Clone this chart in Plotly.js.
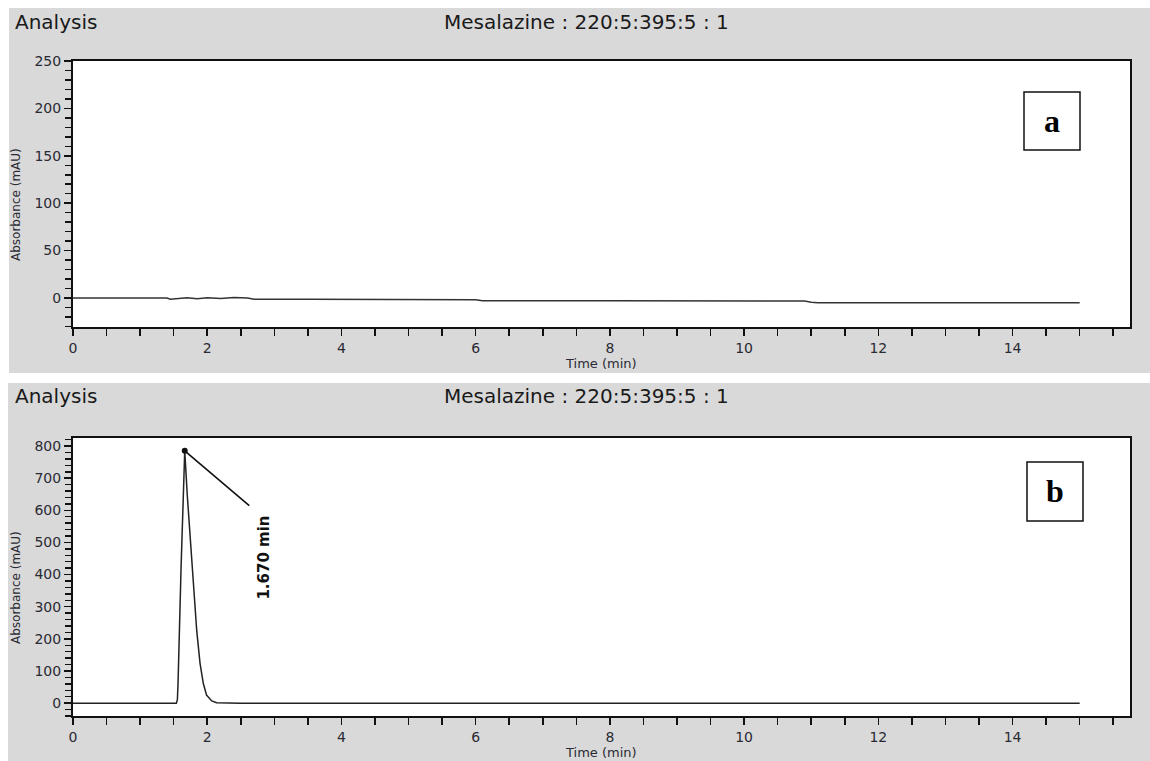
<!DOCTYPE html>
<html>
<head>
<meta charset="utf-8">
<script src="https://cdn.plot.ly/plotly-3.0.1.min.js"></script>
<style>html,body{margin:0;padding:0;background:#fff;}#chart{width:1150px;height:761px;}</style>
</head>
<body>
<div id="chart"></div>
<script>
// ---- Data ----
const panelTitleLeft = "Analysis";
const panelTitleCenter = "Mesalazine : 220:5:395:5 : 1";
const xTitle = "Time (min)";
const yTitle = "Absorbance (mAU)";
const panelLabels = ["a", "b"];

// Panel a: blank run, flat baseline
const timeA = [0, 1.0, 1.4, 1.45, 1.55, 1.7, 1.85, 2.0, 2.2, 2.4, 2.6, 2.7, 3.5, 5.0, 6.0, 6.1, 6.2, 8.0, 10.0, 10.9, 11.0, 11.1, 13.0, 15.0];
const absA  = [0, 0, 0, -1.2, -0.5, 0.3, -0.8, 0.2, -0.6, 0.4, 0, -1.2, -1.2, -1.5, -1.8, -2.8, -3, -3, -3.2, -3.3, -4.5, -5, -5, -5];

// Panel b: Mesalazine peak
const timeB = [0, 1.0, 1.5, 1.54, 1.555, 1.565, 1.61, 1.665, 1.704, 1.769, 1.843, 1.893, 1.942, 1.99, 2.067, 2.14, 2.5, 5.0, 10.0, 15.0];
const absB  = [0, 0, 0, 0, 10, 60, 420, 785, 643, 435, 227, 124, 61, 25, 7, 1, 0, 0, 0, 0];

const peakTime = [1.665];
const peakAbs = [785];
const peakLabel = "1.670 min";

// ---- Layout helpers ----
const W = 1150, H = 761;
const PX = x => x / W;
const PY = y => 1 - y / H;

const tickFont = {family: "DejaVu Sans, Arial, sans-serif", size: 14, color: "#2a2a33"};

function xAxis(anchor) {
  return {
    domain: [PX(73), PX(1130)], anchor: anchor, range: [0, 15.75],
    tick0: 0, dtick: 2, ticks: "outside", ticklen: 7, tickwidth: 1.5, tickcolor: "#111",
    minor: {dtick: 0.5, ticks: "outside", ticklen: 7, tickwidth: 1.5, tickcolor: "#111", showgrid: false},
    showline: true, linewidth: 2, linecolor: "#111", mirror: true,
    showgrid: false, zeroline: false, tickfont: tickFont, automargin: false, fixedrange: true
  };
}
function yAxis(anchor, dom, rng, dt, mdt) {
  return {
    domain: dom, anchor: anchor, range: rng,
    tick0: 0, dtick: dt, ticks: "outside", ticklen: 7, tickwidth: 1.5, tickcolor: "#111",
    minor: {dtick: mdt, ticks: "outside", ticklen: 6, tickwidth: 1.5, tickcolor: "#111", showgrid: false},
    showline: true, linewidth: 2, linecolor: "#111", mirror: true,
    showgrid: false, zeroline: false, tickfont: tickFont, automargin: false, fixedrange: true
  };
}

const traces = [
  {x: timeA, y: absA, xaxis: "x", yaxis: "y", mode: "lines", line: {color: "#333", width: 1.5}, hoverinfo: "skip"},
  {x: timeB, y: absB, xaxis: "x2", yaxis: "y2", mode: "lines", line: {color: "#222", width: 1.5}, hoverinfo: "skip"},
  {x: peakTime, y: peakAbs, xaxis: "x2", yaxis: "y2", mode: "markers", marker: {color: "#111", size: 6}, hoverinfo: "skip"}
];

const hdrFont = {family: "DejaVu Sans, Arial, sans-serif", size: 20, color: "#1a1a1a"};
const axTitleFont = {family: "DejaVu Sans, Arial, sans-serif", size: 13, color: "#2a2a33"};
const yTitleFont = {family: "DejaVu Sans, Arial, sans-serif", size: 12, color: "#2a2a33"};
const letterFont = {family: "Liberation Serif, Times New Roman, serif", size: 32, color: "#000"};

const annotations = [
  {xref: "paper", yref: "paper", x: PX(13), y: PY(22), xanchor: "left", yanchor: "middle", text: panelTitleLeft, showarrow: false, font: hdrFont},
  {xref: "paper", yref: "paper", x: PX(586), y: PY(22), xanchor: "center", yanchor: "middle", text: panelTitleCenter, showarrow: false, font: hdrFont},
  {xref: "paper", yref: "paper", x: PX(13), y: PY(396), xanchor: "left", yanchor: "middle", text: panelTitleLeft, showarrow: false, font: hdrFont},
  {xref: "paper", yref: "paper", x: PX(586), y: PY(396), xanchor: "center", yanchor: "middle", text: panelTitleCenter, showarrow: false, font: hdrFont},
  {xref: "paper", yref: "paper", x: PX(601), y: PY(364), xanchor: "center", yanchor: "middle", text: xTitle, showarrow: false, font: axTitleFont},
  {xref: "paper", yref: "paper", x: PX(601), y: PY(752), xanchor: "center", yanchor: "middle", text: xTitle, showarrow: false, font: axTitleFont},
  {xref: "paper", yref: "paper", x: PX(16), y: PY(205), xanchor: "center", yanchor: "middle", text: yTitle, textangle: -90, showarrow: false, font: yTitleFont},
  {xref: "paper", yref: "paper", x: PX(16), y: PY(588), xanchor: "center", yanchor: "middle", text: yTitle, textangle: -90, showarrow: false, font: yTitleFont},
  {xref: "paper", yref: "paper", x: PX(1052), y: PY(121), xanchor: "center", yanchor: "middle", text: "<b>" + panelLabels[0] + "</b>", showarrow: false, font: letterFont},
  {xref: "paper", yref: "paper", x: PX(1055), y: PY(491), xanchor: "center", yanchor: "middle", text: "<b>" + panelLabels[1] + "</b>", showarrow: false, font: letterFont},
  {xref: "x2", yref: "y2", x: peakTime[0], y: peakAbs[0], ax: 66, ay: 56, text: "", showarrow: true, arrowhead: 0, arrowwidth: 1.6, arrowcolor: "#111", standoff: 0, startstandoff: 0},
  {xref: "x2", yref: "y2", x: peakTime[0], y: peakAbs[0], xshift: 79, yshift: -107, text: "<b>" + peakLabel + "</b>", textangle: -90, showarrow: false, font: {family: "DejaVu Sans, Arial, sans-serif", size: 15, color: "#111"}}
];

const shapes = [
  // grey panels
  {type: "rect", xref: "paper", yref: "paper", x0: PX(9), x1: PX(1150), y0: PY(373), y1: PY(8), fillcolor: "#d9d9d9", line: {width: 0}, layer: "below"},
  {type: "rect", xref: "paper", yref: "paper", x0: PX(8), x1: PX(1150), y0: PY(761), y1: PY(383), fillcolor: "#d9d9d9", line: {width: 0}, layer: "below"},
  // white plot areas
  {type: "rect", xref: "x domain", yref: "y domain", x0: 0, x1: 1, y0: 0, y1: 1, fillcolor: "#ffffff", line: {width: 0}, layer: "below"},
  {type: "rect", xref: "x2 domain", yref: "y2 domain", x0: 0, x1: 1, y0: 0, y1: 1, fillcolor: "#ffffff", line: {width: 0}, layer: "below"},
  // label boxes
  {type: "rect", xref: "paper", yref: "paper", x0: PX(1024), x1: PX(1080), y0: PY(150), y1: PY(92), fillcolor: "rgba(0,0,0,0)", line: {color: "#111", width: 1.5}},
  {type: "rect", xref: "paper", yref: "paper", x0: PX(1027), x1: PX(1083), y0: PY(521), y1: PY(462), fillcolor: "rgba(0,0,0,0)", line: {color: "#111", width: 1.5}}
];

const layout = {
  width: W, height: H,
  margin: {l: 0, r: 0, t: 0, b: 0, pad: 0},
  paper_bgcolor: "#ffffff", plot_bgcolor: "#ffffff",
  showlegend: false,
  xaxis: xAxis("y"),
  yaxis: yAxis("x", [PY(327), PY(61)], [-30.6, 250], 50, 10),
  xaxis2: xAxis("y2"),
  yaxis2: yAxis("x2", [PY(716), PY(438)], [-40, 825], 100, 20),
  annotations: annotations,
  shapes: shapes
};

Plotly.newPlot("chart", traces, layout, {displayModeBar: false, staticPlot: true});
</script>
</body>
</html>
